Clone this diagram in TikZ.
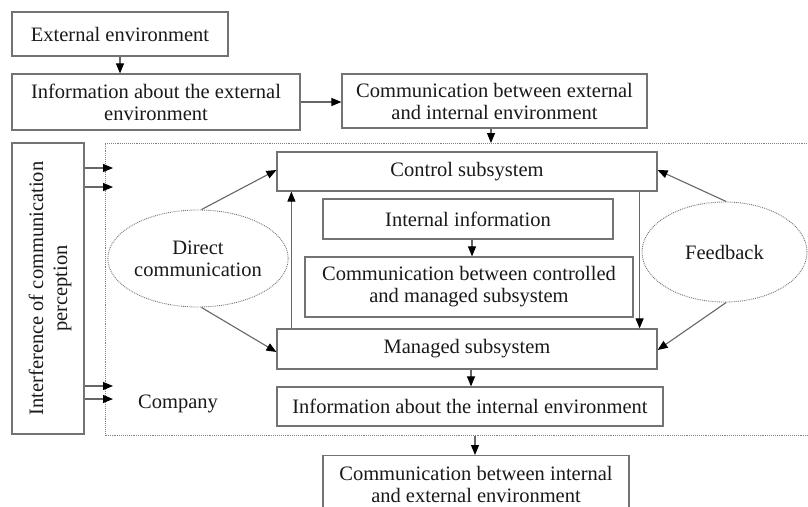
\documentclass[tikz,border=0pt]{standalone}
\usepackage{fontspec}
\setmainfont{Liberation Serif}
\usetikzlibrary{arrows.meta,shapes.geometric,calc}
\begin{document}
\begin{tikzpicture}[x=1pt,y=-1pt,
  every node/.style={font=\fontsize{20.5}{22}\selectfont, text=black!90},
  box/.style={draw=black!55, line width=1.2pt, rectangle, inner sep=0pt, align=center},
  oval/.style={draw=black!55, line width=0.9pt, densely dotted, ellipse, inner sep=0pt, align=center},
  arr/.style={draw=black!60, line width=1.1pt, -{Triangle[length=10pt,width=8pt,fill=black,color=black]}},
  zone/.style={draw=black!50, line width=0.9pt, densely dotted}
]
\useasboundingbox (0,0) rectangle (808,506);

% company zone
\draw[zone] (809,143) -- (105,143) -- (105,435.5) -- (809,435.5);

\node[box, minimum width=216, minimum height=44] (ext) at (120,34) {External environment};
\node[box, minimum width=288, minimum height=56] (infoext) at (156,102) {Information about the external\\environment};
\node[box, minimum width=305, minimum height=54] (commext) at (494.5,101) {Communication between external\\and internal environment};
\node[box, minimum width=72, minimum height=291] (interf) at (48,288.5) {};
\node[rotate=90, align=center, font=\fontsize{20.5}{24}\selectfont] (interftext) at (50,288.5) {Interference of communication\\perception};

\node[box, minimum width=380, minimum height=39] (control) at (467,171.5) {Control subsystem};
\node[box, minimum width=290, minimum height=40] (intinfo) at (468,219) {Internal information};
\node[box, minimum width=328, minimum height=60] (commcm) at (469,287) {Communication between controlled\\and managed subsystem};
\node[box, minimum width=380, minimum height=40] (managed) at (467,349) {Managed subsystem};
\node[box, minimum width=386, minimum height=39] (infoint) at (470,406.5) {Information about the internal environment};
\node[box, minimum width=306, minimum height=58, anchor=north] (commie) at (476,455) {Communication between internal\\and external environment};

\node[oval, minimum width=170, minimum height=97] (direct) at (198,258.5) {Direct\\communication};
\node[oval, minimum width=165, minimum height=100] (feedback) at (724.5,252) {Feedback};
\node (company) at (178,404) {Company};

\coordinate (topin) at (491,143);
\coordinate (botout) at (475,436);

% arrows
\draw[arr] (ext.south) -- (ext.south |- infoext.north);
\draw[arr] (infoext.east) -- (infoext.east -| commext.west);
\draw[arr] (commext.south -| topin) -- (topin);
\draw[arr] (botout) -- (botout |- commie.north);

\draw[arr] (interf.east |- 0,168) -- (113,168);
\draw[arr] (interf.east |- 0,187) -- (113,187);
\draw[arr] (interf.east |- 0,386) -- (113,386);
\draw[arr] (interf.east |- 0,399) -- (113,399);

\draw[arr] (direct.86) -- ($(control.west)+(0,-1.5)$);
\draw[arr] (direct.274) -- ($(managed.west)+(0,3)$);
\draw[arr] (feedback.88) -- ($(control.east)+(0,-1.5)$);
\draw[arr] (feedback.272) -- ($(managed.east)+(0,1)$);

\draw[arr] ($(managed.north west)+(15,0)$) -- ($(control.south west)+(15,0)$);
\draw[arr] ($(control.south east)+(-18,0)$) -- ($(managed.north east)+(-18,0)$);
\draw[arr] ($(intinfo.south)+(4,0)$) -- ($(intinfo.south |- commcm.north)+(4,0)$);
\draw[arr] ($(managed.south)+(4,0)$) -- ($(managed.south |- infoint.north)+(4,0)$);
\end{tikzpicture}
\end{document}
